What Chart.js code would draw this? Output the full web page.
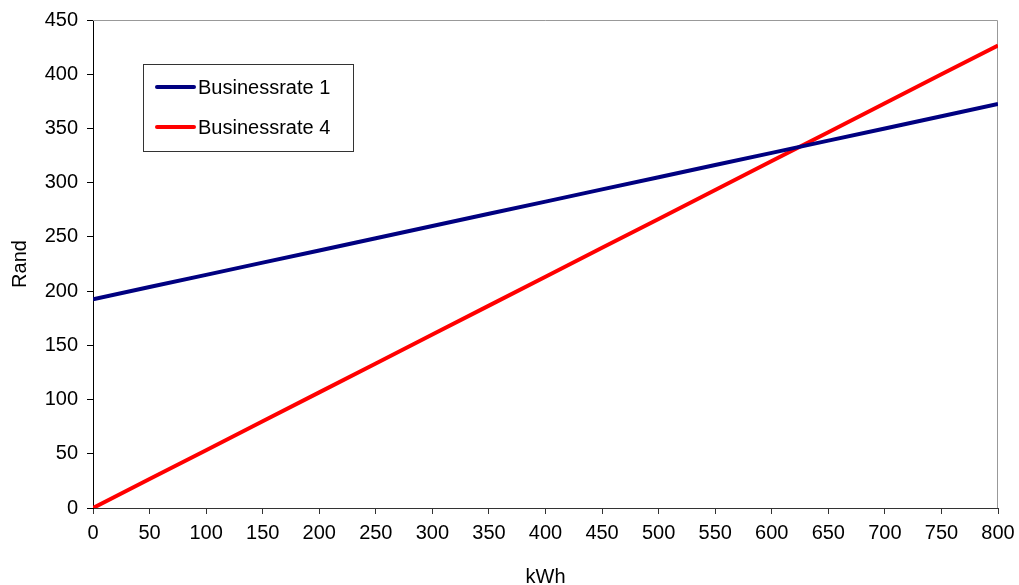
<!DOCTYPE html>
<html>
<head>
<meta charset="utf-8">
<script src="https://cdn.jsdelivr.net/npm/chart.js@4"></script>
<style>
  html, body { margin: 0; padding: 0; background: #fff; }
  #wrap { width: 1019px; height: 585px; }
</style>
</head>
<body>
<div id="wrap"><canvas id="rateChart" width="1019" height="585"></canvas></div>
<script>
// ---------------------------------------------------------------
// DATA
// ---------------------------------------------------------------

const kwh = [0, 50, 100, 150, 200, 250, 300, 350, 400, 450, 500, 550, 600, 650, 700, 750, 800];
const businessRate1 = [192.5, 203.8, 215, 226.3, 237.5, 248.8, 260, 271.3, 282.5, 293.8, 305, 316.3, 327.5, 338.8, 350, 361.3, 372.5];
const businessRate4 = [0, 26.7, 53.3, 80, 106.6, 133.3, 160, 186.6, 213.3, 240, 266.5, 293.2, 319.9, 346.5, 373.2, 399.9, 426.5];
const seriesLabels = ['Businessrate 1', 'Businessrate 4'];

const FONT = "'Liberation Sans', Arial, sans-serif";

// ---------------------------------------------------------------
// PLUGINS: plot frame + boxed legend inside the plot area
// ---------------------------------------------------------------

const frame = {
  id: 'frame',
  beforeDatasetsDraw(chart) {
    const { ctx, chartArea: a } = chart;
    ctx.save();
    ctx.strokeStyle = '#999';
    ctx.lineWidth = 1;
    ctx.beginPath();
    ctx.moveTo(a.left, a.top + 0.5);
    ctx.lineTo(a.right - 0.5, a.top + 0.5);
    ctx.lineTo(a.right - 0.5, a.bottom);
    ctx.stroke();
    ctx.restore();
  }
};

const boxLegend = {
  id: 'boxLegend',
  afterDraw(chart) {
    const { ctx } = chart;
    const x = 143.5, y = 64.5, w = 210, h = 87;
    ctx.save();
    ctx.fillStyle = '#fff';
    ctx.fillRect(x, y, w, h);
    ctx.strokeStyle = '#333';
    ctx.lineWidth = 1;
    ctx.strokeRect(x, y, w, h);
    ctx.font = '20px ' + FONT;
    ctx.textBaseline = 'middle';
    chart.data.datasets.forEach((ds, i) => {
      const cy = 87 + i * 40;
      ctx.strokeStyle = ds.borderColor;
      ctx.lineWidth = 4;
      ctx.lineCap = 'round';
      ctx.beginPath();
      ctx.moveTo(157, cy);
      ctx.lineTo(194, cy);
      ctx.stroke();
      ctx.fillStyle = '#000';
      ctx.fillText(ds.label, 198, cy + 1);
    });
    ctx.restore();
  }
};

// ---------------------------------------------------------------
// CHART
// ---------------------------------------------------------------

const toPoints = (ys) => kwh.map((x, i) => ({ x, y: ys[i] }));

new Chart(document.getElementById('rateChart').getContext('2d'), {
  type: 'line',
  data: {
    datasets: [
      {
        label: seriesLabels[0],
        data: toPoints(businessRate1),
        borderColor: '#000080',
        borderWidth: 4,
        pointRadius: 0,
        tension: 0
      },
      {
        label: seriesLabels[1],
        data: toPoints(businessRate4),
        borderColor: '#FF0000',
        borderWidth: 4,
        pointRadius: 0,
        tension: 0
      }
    ]
  },
  options: {
    responsive: false,
    animation: false,
    layout: { padding: { top: 20, right: 21, left: 0, bottom: 0 } },
    plugins: { legend: { display: false }, tooltip: { enabled: false } },
    scales: {
      x: {
        type: 'linear',
        min: 0,
        max: 800,
        afterFit: (s) => { s.height = 77; s.paddingLeft = 0; s.paddingRight = 0; },
        ticks: { stepSize: 50, color: '#000', font: { family: FONT, size: 20 }, padding: 7, maxRotation: 0 },
        grid: { display: true, drawOnChartArea: false, tickLength: 6, color: '#333' },
        border: { color: '#333', width: 1 },
        title: { display: true, text: 'kWh', color: '#000', font: { family: FONT, size: 20 }, padding: { top: 0, bottom: -4 } }
      },
      y: {
        min: 0,
        max: 450,
        afterFit: (s) => { s.width = 93; s.paddingTop = 0; s.paddingBottom = 0; },
        ticks: { stepSize: 50, color: '#000', font: { family: FONT, size: 20 }, padding: 9 },
        grid: { display: true, drawOnChartArea: false, tickLength: 6, color: '#000' },
        border: { color: '#000', width: 1 },
        title: { display: true, text: 'Rand', color: '#000', font: { family: FONT, size: 20 }, padding: { top: 8, bottom: 0 } }
      }
    }
  },
  plugins: [frame, boxLegend]
});
</script>
</body>
</html>
